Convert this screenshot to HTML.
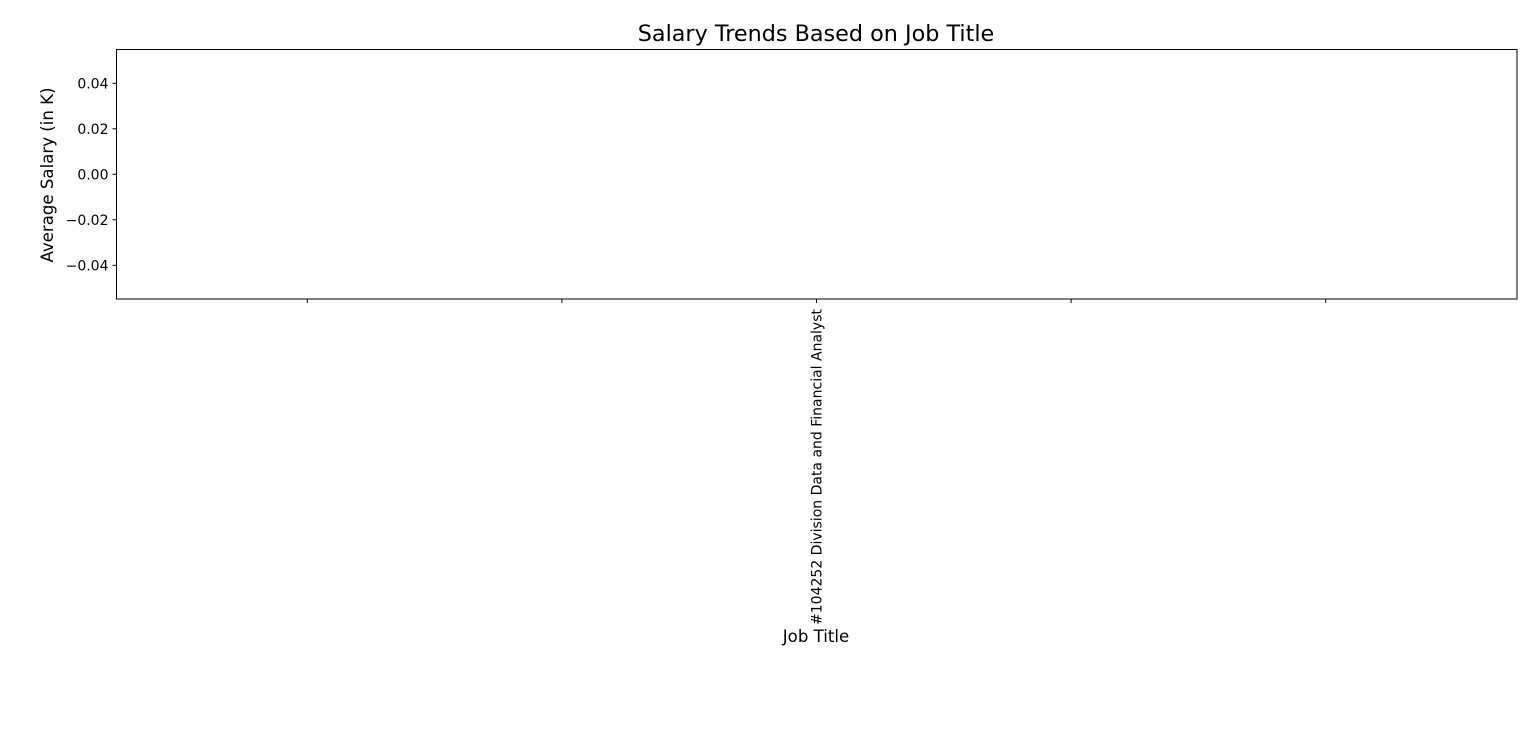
<!DOCTYPE html>
<html><head><meta charset="utf-8"><style>
html,body{margin:0;padding:0;background:#fff;}
svg{display:block;font-family:"DejaVu Sans","Liberation Sans",sans-serif;}
</style></head><body>
<svg id="chart" width="1536" height="754" viewBox="0 0 1536 754">
<text x="816" y="41" text-anchor="middle" font-size="22.3" fill="#000">Salary Trends Based on Job Title</text>
<g id="yticks"></g>
<g id="xticks"></g>
<g id="marks"></g>
<rect x="116.5" y="49.5" width="1400.5" height="249.5" fill="none" stroke="#000" stroke-width="1"/>
<text transform="translate(53,175) rotate(-90)" text-anchor="middle" font-size="16.6" fill="#000">Average Salary (in K)</text>
<text x="816" y="642" text-anchor="middle" font-size="16.6" fill="#000">Job Title</text>
</svg>
<script>
const categories = ["#104252 Division Data and Financial Analyst"];
const salaries = [NaN];
const yTicks = [0.04, 0.02, 0.00, -0.02, -0.04];
const yTickLabels = ["0.04", "0.02", "0.00", "\u22120.02", "\u22120.04"];
const xTicks = [-0.4, -0.2, 0, 0.2, 0.4];

const NS = "http://www.w3.org/2000/svg";
const L = 116.5, R = 1517, T = 49.5, B = 299;
function y(v){ return 174.3 - v * (45.5 / 0.02); }
function x(v){ return 816.5 + v * (254.6 / 0.2); }
function mk(tag, attrs){ const e = document.createElementNS(NS, tag); for (const k in attrs) e.setAttribute(k, attrs[k]); return e; }

const yg = document.getElementById("yticks");
yTicks.forEach((t, i) => {
  const ln = mk("line", {x1: L - 4, x2: L, y1: y(t), y2: y(t), stroke: "#000"});
  
  
  yg.appendChild(ln);
  const tx = mk("text", {x: L - 8, y: y(t) + 5, "text-anchor": "end", "font-size": "14", fill: "#000"});
  tx.textContent = yTickLabels[i];
  
  
  yg.appendChild(tx);
});

const xg = document.getElementById("xticks");
xTicks.forEach(t => {
  const ln = mk("line", {x1: x(t), x2: x(t), y1: B, y2: B + 4, stroke: "#000"});
  
  
  xg.appendChild(ln);
});
categories.forEach((c, i) => {
  const cx = x(i);
  const tx = mk("text", {transform: "translate(" + (cx + 5) + "," + (B + 10) + ") rotate(-90)", "text-anchor": "end", "font-size": "14", fill: "#000"});
  tx.textContent = c;
  
  
  xg.appendChild(tx);
});

const mg = document.getElementById("marks");
categories.forEach((c, i) => {
  const v = salaries[i];
  if (!isFinite(v)) return;
  const pt = mk("circle", {cx: x(i), cy: y(v), r: 3, fill: "#1f77b4"});
  
  
  mg.appendChild(pt);
});
</script>
</body></html>
